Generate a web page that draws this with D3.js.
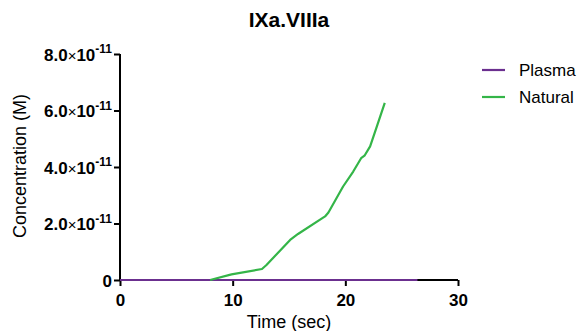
<!DOCTYPE html>
<html>
<head>
<meta charset="utf-8">
<script src="https://cdn.jsdelivr.net/npm/d3@7"></script>
<style>
  html, body { margin: 0; padding: 0; background: #fff; }
  svg { display: block; font-family: "Liberation Sans", Arial, sans-serif; }
</style>
</head>
<body>
<svg id="chart" width="580" height="331"></svg>
<script>
// Time (sec) and concentration (M) for each condition
const plasmaTime = [0, 26.4];
const plasmaConc = [0, 0];

const naturalTime = [8.0, 9.9, 12.6, 13.0, 15.1, 15.8, 18.2, 18.5, 19.8, 20.7, 21.4, 21.7, 22.2, 22.8, 23.5];
const naturalConc = [0, 0.2e-11, 0.39e-11, 0.53e-11, 1.42e-11, 1.63e-11, 2.25e-11, 2.39e-11, 3.31e-11, 3.84e-11, 4.31e-11, 4.40e-11, 4.73e-11, 5.44e-11, 6.27e-11];

const xTicks = [0, 10, 20, 30];
const yTicks = [0, 2e-11, 4e-11, 6e-11, 8e-11];
const yTickMantissa = ["0", "2.0", "4.0", "6.0", "8.0"];
const seriesNames = ["Plasma", "Natural"];
const seriesColors = ["#6b2f8f", "#34b548"];

const svg = d3.select("#chart");
const plotLeft = 120, plotRight = 458, plotTop = 54, plotBottom = 280;

const x = d3.scaleLinear().domain([0, 30]).range([plotLeft, plotRight]);
const y = d3.scaleLinear().domain([0, 8e-11]).range([plotBottom, plotTop]);

// Title
svg.append("text")
  .attr("x", 289).attr("y", 27)
  .attr("text-anchor", "middle")
  .attr("font-size", 21).attr("font-weight", "bold")
  .text("IXa.VIIIa");

const line = d3.line().x(d => x(d[0])).y(d => y(d[1]));
const series = [
  d3.zip(plasmaTime, plasmaConc),
  d3.zip(naturalTime, naturalConc)
];

// X axis
const xAxis = svg.append("g")
  .attr("transform", `translate(0,${plotBottom})`)
  .call(d3.axisBottom(x).tickValues(xTicks).tickSize(6).tickPadding(8).tickFormat(d3.format("d")));
xAxis.select(".domain").attr("stroke", "#000").attr("stroke-width", 2).attr("d", `M${plotLeft},0H${plotRight}`);
xAxis.selectAll(".tick line").attr("stroke", "#000").attr("stroke-width", 2);
xAxis.selectAll(".tick text").attr("font-size", 17).attr("font-weight", "bold").attr("fill", "#000")
  .attr("font-family", "Liberation Sans, Arial, sans-serif");

// Y axis
const yAxis = svg.append("g")
  .attr("transform", `translate(${plotLeft},0)`)
  .call(d3.axisLeft(y).tickValues(yTicks).tickSize(6).tickPadding(3).tickFormat(() => ""));
yAxis.select(".domain").attr("stroke", "#000").attr("stroke-width", 2).attr("d", `M0,${plotBottom}V${plotTop}`);
yAxis.selectAll(".tick line").attr("stroke", "#000").attr("stroke-width", 2);
yAxis.selectAll(".tick text").each(function(d, i) {
  const t = d3.select(this)
    .attr("font-size", 17).attr("font-weight", "bold").attr("fill", "#000")
    .attr("font-family", "Liberation Sans, Arial, sans-serif")
    .attr("x", -8).attr("dy", "0.36em");
  if (d === 0) {
    t.text("0");
  } else {
    t.append("tspan").text(yTickMantissa[i]);
    t.append("tspan").attr("font-weight", "normal").attr("font-size", 15).text("\u00d7");
    t.append("tspan").text("10");
    t.append("tspan").attr("font-size", 12).attr("dy", "-0.6em").text("-11");
  }
});

// Series lines
series.forEach((s, i) => {
  svg.append("path")
    .datum(s)
    .attr("fill", "none")
    .attr("stroke", seriesColors[i])
    .attr("stroke-width", 2.2)
    .attr("stroke-linejoin", "round")
    .attr("d", line);
});

// Axis titles
svg.append("text")
  .attr("x", 289).attr("y", 328)
  .attr("text-anchor", "middle").attr("font-size", 18)
  .text("Time (sec)");
svg.append("text")
  .attr("transform", `translate(26,166) rotate(-90)`)
  .attr("text-anchor", "middle").attr("font-size", 18)
  .text("Concentration (M)");

// Legend
const legend = svg.append("g");
seriesNames.forEach((name, i) => {
  const ly = 70 + i * 27;
  legend.append("line")
    .attr("x1", 482).attr("x2", 505).attr("y1", ly).attr("y2", ly)
    .attr("stroke", seriesColors[i]).attr("stroke-width", 2.2);
  legend.append("text")
    .attr("x", 519).attr("y", ly).attr("dy", "0.35em")
    .attr("font-size", 17)
    .text(name);
});
</script>
</body>
</html>
